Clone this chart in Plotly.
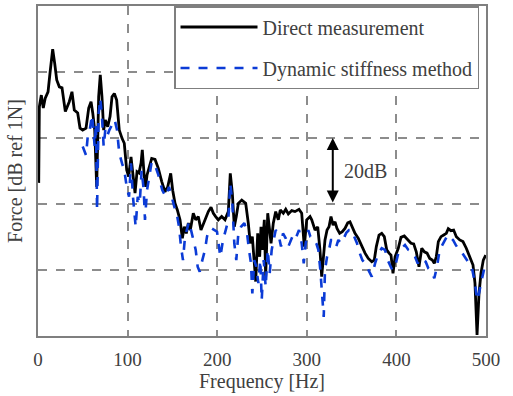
import plotly.graph_objects as go

# Direct measurement (black)
freq_direct = [0.8, 1.5, 3.7, 5.9, 8.1, 11.2, 13.4, 16.4, 18.6, 20.9, 23.8, 26.8, 30.5, 34.9, 37.9, 40.5, 44.3, 46.9, 49.9, 53.6,
               56.6, 59.2, 61.1, 63.3, 65.5, 67.7, 69.5, 71.4, 73.3, 75.1, 77.8, 80.4, 82.6, 85.2, 87.8, 90.7, 93.8, 96.3, 99.0, 101.2,
               103.8, 106.0, 108.3, 110.5, 112.7, 115.0, 116.4, 118.6, 120.2, 121.7, 123.9, 126.9, 130.6, 134.3, 138.1, 141.7, 144.8, 148.1, 150.3, 152.9,
               155.5, 158.5, 161.1, 163.3, 165.5, 167.8, 170.0, 173.3, 176.0, 178.9, 181.9, 184.9, 187.2, 190.1, 193.1, 195.7, 198.3, 201.2, 205.0, 208.7,
               212.4, 214.6, 216.9, 219.1, 221.3, 223.6, 227.4, 231.8, 234.7, 236.9, 239.2, 241.4, 243.0, 245.2, 247.4, 248.9, 250.3, 252.6, 254.1, 256.4,
               258.6, 260.1, 262.6, 265.3, 268.2, 270.4, 273.8, 276.5, 279.4, 283.2, 286.8, 291.3, 294.3, 297.2, 299.9, 303.6, 305.5, 309.2, 312.2, 314.7,
               316.6, 318.4, 320.3, 322.6, 324.8, 327.0, 329.3, 331.5, 333.7, 336.7, 339.6, 342.6, 345.7, 348.2, 350.8, 353.8, 357.5, 361.3, 365.0, 368.6,
               372.5, 375.3, 377.6, 380.6, 383.6, 386.5, 389.2, 391.8, 394.0, 396.2, 398.5, 402.1, 405.1, 408.8, 412.6, 416.3, 419.3, 422.2, 425.2, 428.3,
               431.2, 434.2, 437.2, 440.1, 442.3, 444.5, 446.8, 449.8, 452.8, 455.7, 457.9, 460.9, 463.9, 466.9, 470.7, 474.3, 478.0, 481.8, 485.5, 487.7,
               490.0, 492.2, 494.4, 497.0, 499.7]
force_direct = [46.4, 69.5, 73.0, 69.1, 72.1, 74.0, 79.7, 86.9, 82.7, 77.6, 75.5, 75.2, 68.0, 71.0, 74.0, 68.5, 67.6, 63.0, 62.4, 63.0,
                69.1, 71.0, 67.6, 62.4, 45.2, 72.5, 79.1, 72.5, 62.4, 65.5, 63.4, 66.5, 72.5, 73.5, 71.5, 62.4, 59.9, 58.4, 50.3, 48.3,
                54.3, 47.8, 43.3, 49.8, 49.4, 52.4, 56.4, 48.3, 45.2, 48.8, 51.3, 53.8, 53.5, 50.8, 46.8, 43.7, 45.2, 49.3, 44.2, 40.2,
                38.2, 35.2, 29.6, 33.1, 31.1, 34.2, 32.1, 37.2, 35.2, 36.2, 32.1, 34.2, 36.2, 37.7, 39.0, 37.2, 36.2, 35.2, 36.2, 35.2,
                37.7, 49.3, 43.2, 33.1, 36.2, 40.2, 41.2, 40.2, 34.2, 28.1, 30.1, 23.0, 16.5, 31.1, 24.0, 33.1, 26.1, 35.2, 18.0, 37.2,
                31.1, 28.1, 34.2, 37.7, 35.2, 38.2, 37.2, 38.4, 37.0, 38.0, 37.7, 38.4, 37.2, 27.1, 35.2, 36.2, 35.2, 32.1, 33.1, 26.1,
                18.0, 23.0, 29.1, 32.1, 33.1, 36.2, 33.6, 34.6, 32.6, 31.1, 31.6, 32.6, 34.3, 34.6, 33.1, 31.1, 29.6, 27.1, 25.1, 23.5,
                22.5, 23.0, 27.1, 30.6, 31.1, 30.1, 26.1, 25.1, 24.5, 19.0, 24.0, 26.6, 29.9, 30.3, 29.1, 28.1, 27.9, 25.5, 21.0, 26.6,
                25.5, 25.1, 23.5, 23.0, 22.0, 24.0, 28.6, 30.1, 30.6, 31.1, 32.5, 31.9, 32.1, 30.1, 29.1, 28.6, 26.6, 24.0, 21.5, 16.0,
                0.3, 12.9, 19.0, 23.0, 24.5]

# Dynamic stiffness method (blue dashed)
freq_dynamic = [49.9, 53.6, 55.5, 58.0, 60.3, 61.7, 63.3, 64.7, 65.9, 67.7, 69.5, 71.4, 73.3, 75.1, 77.0, 79.6, 82.6, 85.6, 88.2, 90.7,
                93.8, 96.3, 99.0, 101.6, 103.8, 106.0, 109.0, 111.3, 113.5, 115.7, 118.0, 119.4, 121.7, 123.9, 126.9, 130.6, 134.3, 138.7, 142.5, 146.2,
                149.2, 152.1, 154.8, 157.4, 159.6, 161.8, 164.1, 166.3, 168.5, 170.8, 173.3, 176.0, 178.2, 180.5, 183.4, 186.4, 188.6, 190.9, 193.9, 196.8,
                199.8, 203.5, 206.5, 209.5, 212.4, 214.6, 216.9, 219.1, 221.3, 223.6, 226.6, 230.3, 233.3, 235.5, 237.7, 239.2, 241.4, 243.6, 245.9, 248.1,
                249.7, 251.9, 254.1, 256.4, 258.6, 260.8, 263.1, 265.3, 268.2, 271.2, 273.4, 276.5, 279.4, 282.4, 285.4, 288.3, 291.3, 294.3, 296.6, 298.8,
                301.7, 304.0, 307.7, 310.6, 312.9, 315.1, 317.3, 318.9, 320.3, 322.6, 324.8, 327.0, 330.0, 332.9, 335.2, 338.2, 341.3, 344.1, 347.1, 350.1,
                353.0, 356.0, 359.1, 362.0, 365.0, 368.6, 372.5, 376.2, 379.8, 383.6, 387.3, 390.3, 393.2, 395.4, 398.5, 402.1, 405.9, 409.6, 413.3, 417.1,
                420.8, 423.8, 426.7, 429.7, 432.7, 435.6, 439.4, 442.3, 445.3, 448.3, 451.2, 454.3, 457.3, 460.2, 463.2, 466.2, 469.9, 473.6, 477.4, 481.1,
                484.8, 487.7, 490.0, 492.2, 494.4, 496.7, 498.9]
force_dynamic = [57.4, 54.8, 60.4, 62.9, 67.0, 62.4, 57.4, 64.5, 38.2, 67.5, 72.0, 66.5, 57.4, 62.4, 60.4, 62.4, 63.9, 65.5, 62.4, 55.4,
                 52.3, 50.3, 45.2, 42.2, 52.3, 42.2, 33.1, 42.2, 40.2, 50.3, 44.2, 35.2, 44.2, 48.3, 52.8, 51.8, 48.8, 44.2, 42.2, 45.2,
                 41.7, 39.2, 37.2, 33.1, 27.1, 23.0, 30.1, 32.1, 34.6, 32.1, 29.1, 26.1, 21.0, 19.5, 23.0, 26.1, 30.1, 32.1, 32.6, 32.1,
                 31.6, 24.0, 29.1, 32.1, 35.2, 46.3, 40.2, 28.1, 23.0, 31.1, 33.1, 34.2, 31.1, 26.1, 22.0, 12.9, 23.0, 21.0, 16.0, 23.0,
                 10.9, 23.0, 14.9, 26.1, 19.0, 26.1, 29.1, 32.1, 31.1, 27.1, 31.1, 29.6, 27.1, 29.1, 31.1, 30.1, 32.1, 28.1, 22.0, 28.1,
                 32.1, 30.1, 29.6, 28.1, 26.1, 20.0, 11.9, 5.8, 20.0, 24.0, 26.1, 29.1, 29.1, 27.1, 29.1, 28.1, 29.6, 31.3, 32.1, 32.1,
                 30.1, 28.1, 25.1, 23.0, 22.0, 20.0, 18.0, 22.0, 25.1, 26.6, 26.1, 23.0, 21.5, 20.0, 21.0, 25.1, 26.6, 27.6, 26.1, 25.5,
                 24.0, 22.0, 23.5, 23.0, 22.5, 20.5, 19.5, 17.5, 21.0, 26.1, 27.6, 29.1, 30.6, 29.9, 29.1, 27.6, 26.1, 25.1, 23.5, 22.0,
                 20.0, 16.0, 10.9, 12.9, 16.0, 19.0, 21.5]

x_ticks = [0, 100, 200, 300, 400, 500]
series_names = ["Direct measurement", "Dynamic stiffness method"]

FONT = "Liberation Serif"
TXT = "#404040"
GRID = "#8c8c8c"

fig = go.Figure()
fig.add_trace(go.Scatter(x=freq_direct, y=force_direct, mode="lines", name=series_names[0],
                         line=dict(color="black", width=2.8), legendgroup="a"))
fig.add_trace(go.Scatter(x=freq_dynamic, y=force_dynamic, mode="lines", name=series_names[1],
                         line=dict(color="#0b3bd6", width=2.6, dash="dash"), legendgroup="b"))

# 20 dB scale arrow
fig.add_annotation(x=329, y=60, ax=329, ay=40, xref="x", yref="y", axref="x", ayref="y",
                   showarrow=True, arrowhead=2, arrowside="end+start", arrowsize=1.2,
                   arrowwidth=2, arrowcolor="black", text="")
fig.add_annotation(x=366, y=50, xref="x", yref="y", text="20dB", showarrow=False,
                   font=dict(family=FONT, size=20, color=TXT))

fig.update_layout(
    width=513, height=396,
    margin=dict(l=38, r=27, t=6, b=60),
    paper_bgcolor="white", plot_bgcolor="white",
    font=dict(family=FONT, size=19, color=TXT),
    showlegend=True,
    legend=dict(x=0.3036, y=1, xanchor="left", yanchor="top", bgcolor="white",
                bordercolor="#7f7f7f", borderwidth=1.5, font=dict(family=FONT, size=20, color=TXT),
                itemwidth=77, tracegroupgap=12, traceorder="grouped"),
    xaxis=dict(range=[0, 500], tickvals=x_ticks, ticks="", showgrid=True, gridcolor=GRID,
               griddash="dash", gridwidth=1.5, showline=True, mirror=True, linecolor="#7f7f7f",
               linewidth=2, zeroline=False, automargin=False, ticklabelstandoff=5,
               tickfont=dict(family=FONT, size=19, color=TXT),
               title=dict(text="Frequency [Hz]", font=dict(family=FONT, size=20, color=TXT), standoff=4)),
    yaxis=dict(range=[0, 100], dtick=20, showticklabels=False, ticks="", showgrid=True, gridcolor=GRID,
               griddash="dash", gridwidth=1.5, showline=True, mirror=True, linecolor="#7f7f7f",
               linewidth=2, zeroline=False, automargin=False,
               title=dict(text="Force [dB ref 1N]", font=dict(family=FONT, size=20, color=TXT), standoff=8)),
)

fig.write_html("out.html", config={"displayModeBar": False},
               post_script="document.body.style.margin='0';")
